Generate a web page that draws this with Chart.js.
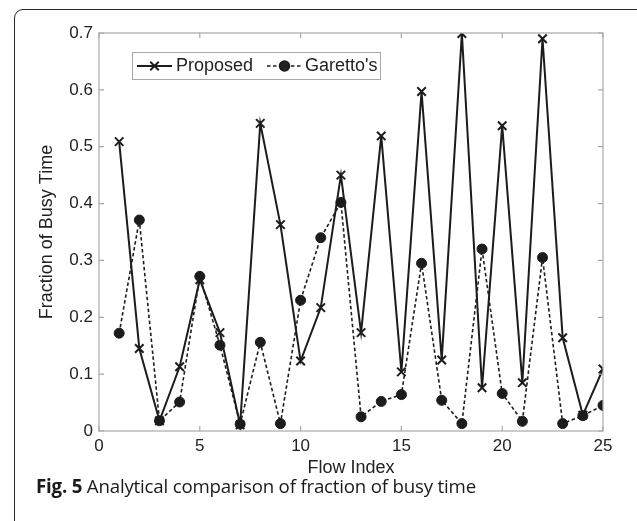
<!DOCTYPE html>
<html>
<head>
<meta charset="utf-8">
<script src="https://cdn.jsdelivr.net/npm/chart.js@4.4.1/dist/chart.umd.min.js"></script>
<style>
    html, body { margin: 0; padding: 0; background: #fff; }
    body { width: 637px; height: 521px; position: relative; overflow: hidden; }
    #frame {
        position: absolute; left: 14px; top: 9px; width: 660px; height: 560px;
        border: 1.6px solid #2a2a2a; border-top-left-radius: 9px;
    }
    #wrap { position: absolute; left: 0; top: 0; width: 637px; height: 521px; }
    #caption {
        position: absolute; left: 36px; top: 473px;
        font-family: 'Open Sans', sans-serif; font-size: 18.7px; color: #1a1a1a;
        letter-spacing: -0.2px; white-space: nowrap;
    }
    #caption b { font-weight: 700; }
</style>
</head>
<body>
<div id="frame"></div>
<div id="wrap"><canvas id="chart" width="637" height="521"></canvas></div>
<div id="caption"><b>Fig. 5</b> Analytical comparison of fraction of busy time</div>
<script>
const flowIndex = [1, 2, 3, 4, 5, 6, 7, 8, 9, 10, 11, 12, 13, 14, 15, 16, 17, 18, 19, 20, 21, 22, 23, 24, 25];
const proposed = [0.509, 0.145, 0.018, 0.113, 0.266, 0.173, 0.011, 0.541, 0.363, 0.123, 0.217, 0.450, 0.173, 0.519, 0.104, 0.597, 0.125, 0.699, 0.076, 0.537, 0.085, 0.690, 0.164, 0.028, 0.109];
const garettos = [0.172, 0.371, 0.018, 0.051, 0.272, 0.151, 0.012, 0.156, 0.013, 0.230, 0.340, 0.402, 0.025, 0.052, 0.064, 0.295, 0.054, 0.013, 0.320, 0.066, 0.017, 0.305, 0.013, 0.027, 0.045];
const xTicks = [0, 5, 10, 15, 20, 25];
const yTicks = [0, 0.1, 0.2, 0.3, 0.4, 0.5, 0.6, 0.7];
const yTickLabels = ['0', '0.1', '0.2', '0.3', '0.4', '0.5', '0.6', '0.7'];
const seriesNames = ['Proposed', "Garetto's"];

const AXIS_FONT = "'Liberation Sans', Arial, sans-serif";

// matlab style box: gray frame + inward ticks on all four sides
const boxPlugin = {
    id: 'box',
    afterDraw(chart) {
        const { ctx, chartArea: a, scales } = chart;
        ctx.save();
        ctx.strokeStyle = '#a8a8a8';
        ctx.lineWidth = 1.2;
        ctx.strokeRect(a.left, a.top, a.right - a.left, a.bottom - a.top);
        ctx.beginPath();
        xTicks.forEach(v => {
            const px = scales.x.getPixelForValue(v);
            ctx.moveTo(px, a.bottom); ctx.lineTo(px, a.bottom - 5);
            ctx.moveTo(px, a.top); ctx.lineTo(px, a.top + 5);
        });
        yTicks.forEach(v => {
            const py = scales.y.getPixelForValue(v);
            ctx.moveTo(a.left, py); ctx.lineTo(a.left + 5, py);
            ctx.moveTo(a.right, py); ctx.lineTo(a.right - 5, py);
        });
        ctx.stroke();

        // legend with line + marker samples
        const bx = 132, by = 52, bw = 248, bh = 27;
        ctx.fillStyle = '#fff';
        ctx.fillRect(bx, by, bw, bh);
        ctx.strokeStyle = '#a8a8a8';
        ctx.lineWidth = 1;
        ctx.strokeRect(bx + 0.5, by + 0.5, bw, bh);
        const cy = by + bh / 2 + 0.5;
        const items = [
            { x0: 137, x1: 172, tx: 176 },
            { x0: 267, x1: 302, tx: 305 }
        ];
        chart.data.datasets.forEach((ds, i) => {
            const it = items[i];
            ctx.strokeStyle = ds.borderColor;
            ctx.lineWidth = ds.borderWidth;
            ctx.setLineDash(ds.borderDash || []);
            ctx.beginPath();
            ctx.moveTo(it.x0, cy); ctx.lineTo(it.x1, cy);
            ctx.stroke();
            ctx.setLineDash([]);
            Chart.helpers.drawPoint(ctx, {
                pointStyle: ds.pointStyle, radius: ds.pointRadius,
                borderWidth: ds.pointBorderWidth, rotation: 0
            }, (it.x0 + it.x1) / 2, cy);
            ctx.fillStyle = '#222';
            ctx.font = '18px ' + AXIS_FONT;
            ctx.textBaseline = 'middle';
            ctx.fillText(ds.label, it.tx, cy);
        });
        ctx.restore();
    }
};

const toPoints = ys => flowIndex.map((x, i) => ({ x: x, y: ys[i] }));

new Chart(document.getElementById('chart').getContext('2d'), {
    type: 'line',
    data: {
        datasets: [{
            label: seriesNames[0],
            data: toPoints(proposed),
            borderColor: '#1c1c1c',
            backgroundColor: '#1c1c1c',
            borderWidth: 2,
            pointStyle: 'crossRot',
            pointRadius: 6,
            pointBorderWidth: 2,
            pointBorderColor: '#1c1c1c',
            tension: 0
        }, {
            label: seriesNames[1],
            data: toPoints(garettos),
            borderColor: '#1c1c1c',
            backgroundColor: '#1c1c1c',
            borderWidth: 1.6,
            borderDash: [3.5, 2.5],
            pointStyle: 'circle',
            pointRadius: 5,
            pointBorderWidth: 1,
            pointBackgroundColor: '#1c1c1c',
            pointBorderColor: '#1c1c1c',
            tension: 0
        }]
    },
    options: {
        responsive: false,
        animation: false,
        events: [],
        layout: { padding: { left: 36, right: 34, top: 33, bottom: 42 } },
        plugins: { legend: { display: false }, tooltip: { enabled: false } },
        scales: {
            x: {
                type: 'linear', min: 0, max: 25,
                afterBuildTicks: s => { s.ticks = xTicks.map(v => ({ value: v })); },
                afterFit: s => { s.height = 48; },
                grid: { display: false, drawTicks: false },
                border: { display: false },
                ticks: { padding: 5, color: '#222', font: { family: AXIS_FONT, size: 17 }, maxRotation: 0 },
                title: { display: true, text: 'Flow Index', color: '#222', padding: 0, font: { family: AXIS_FONT, size: 18 } }
            },
            y: {
                type: 'linear', min: 0, max: 0.7,
                afterBuildTicks: s => { s.ticks = yTicks.map(v => ({ value: v })); },
                afterFit: s => { s.width = 63; },
                grid: { display: false, drawTicks: false },
                border: { display: false },
                ticks: { padding: 6, color: '#222', font: { family: AXIS_FONT, size: 17 },
                    callback: (v, i) => yTickLabels[i] },
                title: { display: true, text: 'Fraction of Busy Time', color: '#222', padding: 0, font: { family: AXIS_FONT, size: 18 } }
            }
        }
    },
    plugins: [boxPlugin]
});
</script>
</body>
</html>
